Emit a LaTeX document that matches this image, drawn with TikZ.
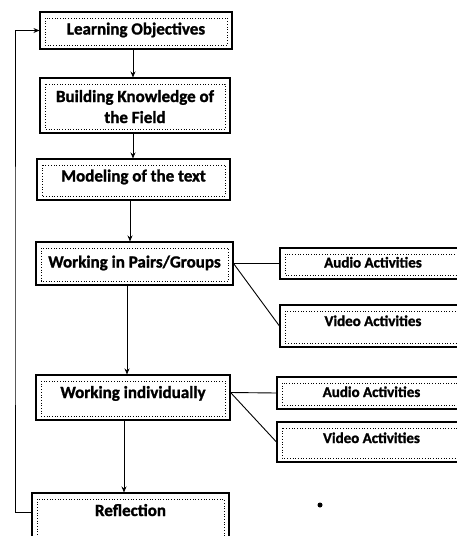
\documentclass[tikz,border=0pt]{standalone}
\usepackage{fontspec}
\setmainfont{Carlito}
\newfontfamily\heavy[FakeBold=1.3]{Carlito Bold}
\usetikzlibrary{arrows.meta}
\tikzset{
  box/.style={draw, line width=1.1pt, rectangle, inner sep=0pt, align=center,
    font=\heavy\fontsize{17}{21}\selectfont, text height=11pt, text depth=3pt,
    path picture={\draw[dotted, line width=0.7pt]
      ([shift={(5pt,-6pt)}]path picture bounding box.north west) rectangle
      ([shift={(-5pt,4pt)}]path picture bounding box.south east);}},
  sbox/.style={box, font=\heavy\fontsize{15}{18}\selectfont},
  arr/.style={line width=0.9pt, -{Stealth[length=6pt,width=5pt]}},
  ln/.style={line width=0.9pt}
}
\begin{document}
\begin{tikzpicture}[x=1pt,y=-1pt]
\useasboundingbox (0,0) rectangle (457,536);
\clip (0,0) rectangle (457,536);
\node[box, minimum width=192pt, minimum height=37pt] (lo) at (136,30.5) {Learning Objectives};
\node[box, minimum width=190pt, minimum height=55pt, text height=38pt] (bk) at (135,105.5) {Building Knowledge of\\the Field};
\node[box, minimum width=193pt, minimum height=41pt, text depth=7pt] (mt) at (133.5,179.5) {Modeling of the text};
\node[box, minimum width=197pt, minimum height=43pt] (wp) at (134.5,263.5) {Working in Pairs/Groups};
\node[box, minimum width=194pt, minimum height=45pt, text depth=10pt] (wi) at (133,397.5) {Working individually};
\node[box, minimum width=197pt, minimum height=47pt, text depth=12pt] (rf) at (130.5,516.5) {Reflection};
\node[sbox, minimum width=190pt, minimum height=31pt] (a1) at (375,263.5) {Audio Activities\hspace*{4pt}};
\node[sbox, minimum width=190pt, minimum height=42pt, text depth=11pt] (v1) at (375,326) {Video Activities\hspace*{4pt}};
\node[sbox, minimum width=193pt, minimum height=32pt] (a2) at (373.5,393) {Audio Activities\hspace*{4pt}};
\node[sbox, minimum width=193pt, minimum height=40pt, text depth=9pt] (v2) at (373.5,442) {Video Activities\hspace*{4pt}};
\coordinate (x1) at (133,0);
\coordinate (x2) at (130,0);
\coordinate (x3) at (127,0);
\coordinate (x4) at (124,0);
\coordinate (fb) at (15,300);
\draw[arr] (lo.south -| x1) -- (bk.north -| x1);
\draw[arr] (bk.south -| x1) -- (mt.north -| x1);
\draw[arr] (mt.south -| x2) -- (wp.north -| x2);
\draw[arr] (wp.south -| x3) -- (wi.north -| x3);
\draw[arr] (wi.south -| x4) -- (rf.north -| x4);
\draw[ln] (wp.east) -- (a1.west);
\draw[ln] (wp.east) -- (v1.west);
\draw[ln] ([yshift=5pt]wi.east) -- (a2.west);
\draw[ln] ([yshift=5pt]wi.east) -- (v2.west);
\draw[arr] ([yshift=4pt]rf.west) -| (fb) |- (lo.west);
\fill (320,505) circle (2.5pt);
\end{tikzpicture}
\end{document}
